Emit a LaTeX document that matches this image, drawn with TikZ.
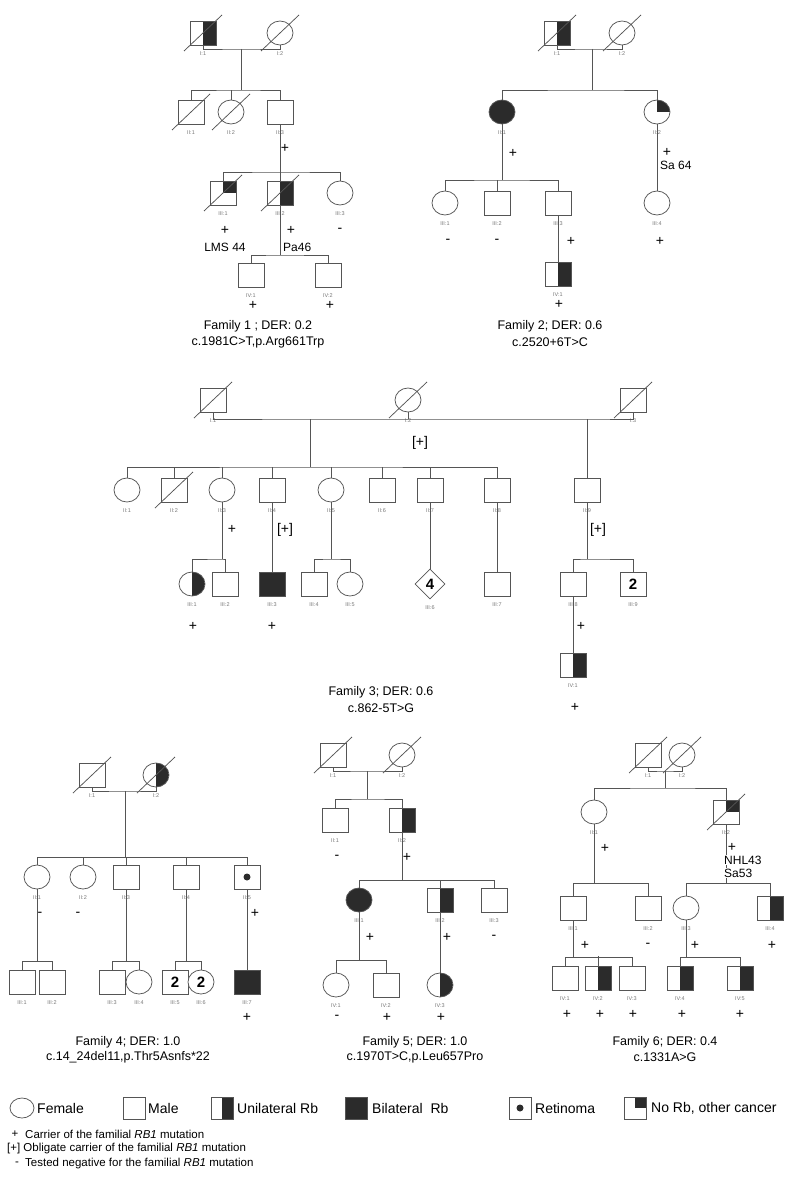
\documentclass[tikz,border=0pt]{standalone}
\usepackage{fontspec}
\setmainfont{Liberation Sans}
\usetikzlibrary{shapes.geometric,positioning,calc}
\definecolor{pedgray}{HTML}{555555}
\definecolor{rbfill}{HTML}{2B2B2B}
\definecolor{idgray}{HTML}{777777}

\newcommand{\deceased}[1]{\draw[pedline] ($(#1.center)+(-19,18)$) -- ($(#1.center)+(19,-18)$);}

\tikzset{
  pedline/.style={draw=pedgray, line width=0.75pt},
  sym/.style={draw=pedgray, line width=0.75pt, fill=white, inner sep=0pt},
  male/.style={sym, rectangle, minimum width=26pt, minimum height=24pt},
  female/.style={sym, ellipse, minimum width=26pt, minimum height=24pt},
  unkn/.style={sym, diamond, minimum size=30pt, font=\fontsize{15}{15}\selectfont\bfseries},
  count/.style={font=\fontsize{15}{15}\selectfont\bfseries},
  uni/.style={path picture={\fill[rbfill] (path picture bounding box.north) rectangle (path picture bounding box.south east);}},
  bil/.style={fill=rbfill},
  othca/.style={path picture={\fill[rbfill] (path picture bounding box.center) rectangle (path picture bounding box.north east);}},
  retino/.style={path picture={\fill[rbfill] (path picture bounding box.center) circle (3.5pt);}},
  idlab/.style={font=\fontsize{5.5}{6}\selectfont, text=idgray, inner sep=1pt, label distance=5pt},
  pid/.style={label={[idlab]below:{#1}}},
  sgn/.style={font=\fontsize{14}{14}\selectfont, inner sep=0pt},
  notetxt/.style={font=\fontsize{12}{13}\selectfont, inner sep=1pt},
  captxt/.style={font=\fontsize{12.5}{15}\selectfont, inner sep=0pt},
  legtxt/.style={font=\fontsize{14}{15}\selectfont, anchor=west, inner sep=0pt},
  keytxt/.style={font=\fontsize{11.5}{12}\selectfont, anchor=west, inner sep=0pt},
  keysym/.style={minimum width=22pt, minimum height=22pt}
}

\begin{document}
\begin{tikzpicture}[x=1pt, y=-1pt]
  \useasboundingbox (0,0) rectangle (785,1185);

  % Family 1
  \node[male, uni, pid={I:1}] (f1i1) at (203,33) {};
  \node[female, pid={I:2}] (f1i2) at (280,33) {};
  \node[male, pid={II:1}] (f1ii1) at (191,112) {};
  \node[female, pid={II:2}] (f1ii2) at (231,112) {};
  \node[male, pid={II:3}] (f1ii3) at (280,112) {};
  \node[male, othca, pid={III:1}] (f1iii1) at (223,193) {};
  \node[male, uni, pid={III:2}] (f1iii2) at (280,193) {};
  \node[female, pid={III:3}] (f1iii3) at (340,193) {};
  \node[male, pid={IV:1}] (f1iv1) at (251,275) {};
  \node[male, pid={IV:2}] (f1iv2) at (328,275) {};
  \deceased{f1i1} \deceased{f1i2} \deceased{f1ii1} \deceased{f1ii2} \deceased{f1iii1} \deceased{f1iii2}
  \coordinate (f1m) at (241,49);
  \coordinate (f1s) at (241,90);
  \coordinate (f1s2) at (280,172);
  \coordinate (f1s3) at (280,255);
  \draw[pedline] (f1i1.south) |- (f1m) -| (f1i2.south);
  \draw[pedline] (f1m) -- (f1s);
  \draw[pedline] (f1ii1.north) |- (f1s) -| (f1ii3.north);
  \draw[pedline] (f1ii2.north) -- ++(0,-10);
  \draw[pedline] (f1ii3.south) -- (f1s2);
  \draw[pedline] (f1iii1.north) |- (f1s2) -| (f1iii3.north);
  \draw[pedline] (f1iii2.north) -- (f1s2);
  \draw[pedline] (f1iii2.south) -- (f1s3);
  \draw[pedline] (f1iv1.north) |- (f1s3) -| (f1iv2.north);
  \node[sgn] (f1p1) at (285,148) {+};
  \node[sgn] (f1p2) at (225,230) {+};
  \node[sgn] (f1p3) at (291,230) {+};
  \node[sgn] (f1p4) at (340,230) {-};
  \node[notetxt] (f1n1) at (225,247) {LMS 44};
  \node[notetxt, anchor=west] (f1n2) at (282,247) {Pa46};
  \node[sgn] (f1p5) at (253,305) {+};
  \node[sgn] (f1p6) at (330,305) {+};
  \node[captxt] (f1cap) at (258,326) {Family 1 ; DER: 0.2};
  \node[captxt] (f1mut) at (258,342) {c.1981C>T,p.Arg661Trp};

  % Family 2
  \node[male, uni, pid={I:1}] (f2i1) at (557,33) {};
  \node[female, pid={I:2}] (f2i2) at (622,33) {};
  \node[female, bil, pid={II:1}] (f2ii1) at (502,112) {};
  \node[female, othca, pid={II:2}] (f2ii2) at (657,112) {};
  \node[female, pid={III:1}] (f2iii1) at (445,203) {};
  \node[male, pid={III:2}] (f2iii2) at (497,203) {};
  \node[male, pid={III:3}] (f2iii3) at (558,203) {};
  \node[female, pid={III:4}] (f2iii4) at (657,203) {};
  \node[male, uni, pid={IV:1}] (f2iv1) at (558,274) {};
  \deceased{f2i1} \deceased{f2i2}
  \coordinate (f2m) at (592,49);
  \coordinate (f2s) at (592,90);
  \coordinate (f2s2) at (502,180);
  \draw[pedline] (f2i1.south) |- (f2m) -| (f2i2.south);
  \draw[pedline] (f2m) -- (f2s);
  \draw[pedline] (f2ii1.north) |- (f2s) -| (f2ii2.north);
  \draw[pedline] (f2ii1.south) -- (f2s2);
  \draw[pedline] (f2iii1.north) |- (f2s2) -| (f2iii3.north);
  \draw[pedline] (f2iii2.north) -- ++(0,-11);
  \draw[pedline] (f2ii2.south) -- (f2iii4.north);
  \draw[pedline] (f2iii3.south) -- (f2iv1.north);
  \node[sgn] (f2p1) at (513,153) {+};
  \node[sgn] (f2p2) at (667,152) {+};
  \node[notetxt, anchor=west] (f2n1) at (659,165) {Sa 64};
  \node[sgn] (f2p3) at (448,241) {-};
  \node[sgn] (f2p4) at (497,241) {-};
  \node[sgn] (f2p5) at (571,241) {+};
  \node[sgn] (f2p6) at (660,241) {+};
  \node[sgn] (f2p7) at (559,304) {+};
  \node[captxt] (f2cap) at (550,326) {Family 2; DER: 0.6};
  \node[captxt] (f2mut) at (550,342) {c.2520+6T>C};

  % Family 3
  \node[male, pid={I:1}] (f3i1) at (213,400) {};
  \node[female, pid={I:2}] (f3i2) at (408,400) {};
  \node[male, pid={I:3}] (f3i3) at (633,400) {};
  \node[female, pid={II:1}] (f3ii1) at (127,490) {};
  \node[male, pid={II:2}] (f3ii2) at (174,490) {};
  \node[female, pid={II:3}] (f3ii3) at (222,490) {};
  \node[male, pid={II:4}] (f3ii4) at (272,490) {};
  \node[female, pid={II:5}] (f3ii5) at (331,490) {};
  \node[male, pid={II:6}] (f3ii6) at (382,490) {};
  \node[male, pid={II:7}] (f3ii7) at (430,490) {};
  \node[male, pid={II:8}] (f3ii8) at (497,490) {};
  \node[male, pid={II:9}] (f3ii9) at (587,490) {};
  \node[female, uni, pid={III:1}] (f3iii1) at (192,584) {};
  \node[male, pid={III:2}] (f3iii2) at (225,584) {};
  \node[male, bil, pid={III:3}] (f3iii3) at (272,584) {};
  \node[male, pid={III:4}] (f3iii4) at (314,584) {};
  \node[female, pid={III:5}] (f3iii5) at (350,584) {};
  \node[unkn, pid={III:6}] (f3iii6) at (430,584) {4};
  \node[male, pid={III:7}] (f3iii7) at (497,584) {};
  \node[male, pid={III:8}] (f3iii8) at (573,584) {};
  \node[male, count, pid={III:9}] (f3iii9) at (633,584) {2};
  \node[male, uni, pid={IV:1}] (f3iv1) at (573,665) {};
  \deceased{f3i1} \deceased{f3i2} \deceased{f3i3} \deceased{f3ii2}
  \coordinate (f3m1) at (310,419);
  \coordinate (f3m2) at (587,419);
  \coordinate (f3s) at (310,467);
  \coordinate (f3s3) at (222,559);
  \coordinate (f3s5) at (331,559);
  \coordinate (f3s9) at (587,559);
  \draw[pedline] (f3i1.south) |- (f3m1) -- (f3m2) -| (f3i3.south);
  \draw[pedline] (f3i2.south) -- (f3i2.south |- f3m1);
  \draw[pedline] (f3m1) -- (f3s);
  \draw[pedline] (f3ii1.north) |- (f3s) -| (f3ii8.north);
  \foreach \k in {2,...,7}
    \draw[pedline] (f3ii\k.north) -- ++(0,-11);
  \draw[pedline] (f3m2) -- (f3ii9.north);
  \draw[pedline] (f3ii3.south) -- (f3s3);
  \draw[pedline] (f3iii1.north) |- (f3s3) -| (f3iii2.north);
  \draw[pedline] (f3ii4.south) -- (f3iii3.north);
  \draw[pedline] (f3ii5.south) -- (f3s5);
  \draw[pedline] (f3iii4.north) |- (f3s5) -| (f3iii5.north);
  \draw[pedline] (f3ii7.south) -- (f3iii6.north);
  \draw[pedline] (f3ii8.south) -- (f3iii7.north);
  \draw[pedline] (f3ii9.south) -- (f3s9);
  \draw[pedline] (f3iii8.north) |- (f3s9) -| (f3iii9.north);
  \draw[pedline] (f3iii8.south) -- (f3iv1.north);
  \node[sgn] (f3p1) at (420,443) {[+]};
  \node[sgn] (f3p2) at (232,529) {+};
  \node[sgn] (f3p3) at (285,530) {[+]};
  \node[sgn] (f3p4) at (598,530) {[+]};
  \node[sgn] (f3p5) at (193,626) {+};
  \node[sgn] (f3p6) at (272,626) {+};
  \node[sgn] (f3p7) at (581,626) {+};
  \node[sgn] (f3p8) at (575,707) {+};
  \node[captxt] (f3cap) at (381,692) {Family 3; DER: 0.6};
  \node[captxt] (f3mut) at (381,708) {c.862-5T>G};

  % Family 4
  \node[male, pid={I:1}] (f4i1) at (92,775) {};
  \node[female, uni, pid={I:2}] (f4i2) at (156,775) {};
  \node[female, pid={II:1}] (f4ii1) at (37,877) {};
  \node[female, pid={II:2}] (f4ii2) at (83,877) {};
  \node[male, pid={II:3}] (f4ii3) at (126,877) {};
  \node[male, pid={II:4}] (f4ii4) at (186,877) {};
  \node[male, retino, pid={II:5}] (f4ii5) at (247,877) {};
  \node[male, pid={III:1}] (f4iii1) at (22,982) {};
  \node[male, pid={III:2}] (f4iii2) at (52,982) {};
  \node[male, pid={III:3}] (f4iii3) at (112,982) {};
  \node[female, pid={III:4}] (f4iii4) at (139,982) {};
  \node[male, count, pid={III:5}] (f4iii5) at (175,982) {2};
  \node[female, count, pid={III:6}] (f4iii6) at (201,982) {2};
  \node[male, bil, pid={III:7}] (f4iii7) at (247,982) {};
  \deceased{f4i1} \deceased{f4i2}
  \coordinate (f4m) at (125,791);
  \coordinate (f4s) at (125,857);
  \coordinate (f4s1) at (37,961);
  \coordinate (f4s3) at (126,961);
  \coordinate (f4s4) at (186,961);
  \draw[pedline] (f4i1.south) |- (f4m) -| (f4i2.south);
  \draw[pedline] (f4m) -- (f4s);
  \draw[pedline] (f4ii1.north) |- (f4s) -| (f4ii5.north);
  \foreach \k in {2,3,4}
    \draw[pedline] (f4ii\k.north) -- ++(0,-8);
  \draw[pedline] (f4ii1.south) -- (f4s1);
  \draw[pedline] (f4iii1.north) |- (f4s1) -| (f4iii2.north);
  \draw[pedline] (f4ii3.south) -- (f4s3);
  \draw[pedline] (f4iii3.north) |- (f4s3) -| (f4iii4.north);
  \draw[pedline] (f4ii4.south) -- (f4s4);
  \draw[pedline] (f4iii5.north) |- (f4s4) -| (f4iii6.north);
  \draw[pedline] (f4ii5.south) -- (f4iii7.north);
  \node[sgn] (f4p1) at (40,914) {-};
  \node[sgn] (f4p2) at (78,914) {-};
  \node[sgn] (f4p3) at (255,913) {+};
  \node[sgn] (f4p4) at (247,1017) {+};
  \node[captxt] (f4cap) at (128,1042) {Family 4; DER: 1.0};
  \node[captxt] (f4mut) at (128,1057) {c.14\_24del11,p.Thr5Asnfs*22};

  % Family 5
  \node[male, pid={I:1}] (f5i1) at (333,755) {};
  \node[female, pid={I:2}] (f5i2) at (402,755) {};
  \node[male, pid={II:1}] (f5ii1) at (335,820) {};
  \node[male, uni, pid={II:2}] (f5ii2) at (402,820) {};
  \node[female, bil, pid={III:1}] (f5iii1) at (359,900) {};
  \node[male, uni, pid={III:2}] (f5iii2) at (440,900) {};
  \node[male, pid={III:3}] (f5iii3) at (494,900) {};
  \node[female, pid={IV:1}] (f5iv1) at (336,985) {};
  \node[male, pid={IV:2}] (f5iv2) at (386,985) {};
  \node[female, uni, pid={IV:3}] (f5iv3) at (440,985) {};
  \deceased{f5i1} \deceased{f5i2}
  \coordinate (f5m) at (367,771);
  \coordinate (f5s) at (367,799);
  \coordinate (f5s2) at (402,880);
  \coordinate (f5s3) at (359,960);
  \draw[pedline] (f5i1.south) |- (f5m) -| (f5i2.south);
  \draw[pedline] (f5m) -- (f5s);
  \draw[pedline] (f5ii1.north) |- (f5s) -| (f5ii2.north);
  \draw[pedline] (f5ii2.south) -- (f5s2);
  \draw[pedline] (f5iii1.north) |- (f5s2) -| (f5iii3.north);
  \draw[pedline] (f5iii2.north) -- ++(0,-8);
  \draw[pedline] (f5iii1.south) -- (f5s3);
  \draw[pedline] (f5iv1.north) |- (f5s3) -| (f5iv2.north);
  \draw[pedline] (f5iii2.south) -- (f5iv3.north);
  \node[sgn] (f5p1) at (337,857) {-};
  \node[sgn] (f5p2) at (407,857) {+};
  \node[sgn] (f5p3) at (370,937) {+};
  \node[sgn] (f5p4) at (447,937) {+};
  \node[sgn] (f5p5) at (494,937) {-};
  \node[sgn] (f5p6) at (337,1017) {-};
  \node[sgn] (f5p7) at (387,1017) {+};
  \node[sgn] (f5p8) at (441,1017) {+};
  \node[captxt] (f5cap) at (415,1042) {Family 5; DER: 1.0};
  \node[captxt] (f5mut) at (415,1057) {c.1970T>C,p.Leu657Pro};

  % Family 6
  \node[male, pid={I:1}] (f6i1) at (648,755) {};
  \node[female, pid={I:2}] (f6i2) at (682,755) {};
  \node[female, pid={II:1}] (f6ii1) at (594,812) {};
  \node[male, othca, pid={II:2}] (f6ii2) at (726,812) {};
  \node[male, pid={III:1}] (f6iii1) at (573,908) {};
  \node[male, pid={III:2}] (f6iii2) at (648,908) {};
  \node[female, pid={III:3}] (f6iii3) at (686,908) {};
  \node[male, uni, pid={III:4}] (f6iii4) at (770,908) {};
  \node[male, pid={IV:1}] (f6iv1) at (565,978) {};
  \node[male, uni, pid={IV:2}] (f6iv2) at (598,978) {};
  \node[male, pid={IV:3}] (f6iv3) at (632,978) {};
  \node[male, uni, pid={IV:4}] (f6iv4) at (680,978) {};
  \node[male, uni, pid={IV:5}] (f6iv5) at (740,978) {};
  \deceased{f6i1} \deceased{f6i2} \deceased{f6ii2}
  \coordinate (f6m) at (665,771);
  \coordinate (f6s) at (665,788);
  \coordinate (f6s1) at (594,883);
  \coordinate (f6s2) at (726,883);
  \coordinate (f6s3) at (573,957);
  \coordinate (f6s4) at (686,957);
  \draw[pedline] (f6i1.south) |- (f6m) -| (f6i2.south);
  \draw[pedline] (f6m) -- (f6s);
  \draw[pedline] (f6ii1.north) |- (f6s) -| (f6ii2.north);
  \draw[pedline] (f6ii1.south) -- (f6s1);
  \draw[pedline] (f6iii1.north) |- (f6s1) -| (f6iii2.north);
  \draw[pedline] (f6ii2.south) -- (f6s2);
  \draw[pedline] (f6iii3.north) |- (f6s2) -| (f6iii4.north);
  \draw[pedline] (f6iii1.south) -- (f6s3);
  \draw[pedline] (f6iv1.north) |- (f6s3) -| (f6iv3.north);
  \draw[pedline] (f6iv2.north) -- ++(0,-10);
  \draw[pedline] (f6iii3.south) -- (f6s4);
  \draw[pedline] (f6iv4.north) |- (f6s4) -| (f6iv5.north);
  \node[sgn] (f6p1) at (605,848) {+};
  \node[sgn] (f6p2) at (732,847) {+};
  \node[notetxt, anchor=west, fill=white] (f6n1) at (723,860) {NHL43};
  \node[notetxt, anchor=west, fill=white] (f6n2) at (723,873) {Sa53};
  \node[sgn] (f6p3) at (585,945) {+};
  \node[sgn] (f6p4) at (648,945) {-};
  \node[sgn] (f6p5) at (695,945) {+};
  \node[sgn] (f6p6) at (772,945) {+};
  \foreach \k/\xx in {1/567,2/600,3/633,4/682,5/740}
    \node[sgn] (f6q\k) at (\xx,1014) {+};
  \node[captxt] (f6cap) at (665,1042) {Family 6; DER: 0.4};
  \node[captxt] (f6mut) at (665,1057) {c.1331A>G};

  % key
  \node[female, minimum width=24pt, minimum height=20pt] (kfem) at (22,1108) {};
  \node[legtxt] (kfemt) at (37,1108) {Female};
  \node[male, keysym] (kmal) at (134,1108) {};
  \node[legtxt] (kmalt) at (148,1108) {Male};
  \node[male, keysym, uni] (kuni) at (222,1108) {};
  \node[legtxt] (kunit) at (237,1108) {Unilateral Rb};
  \node[male, keysym, bil] (kbil) at (356,1108) {};
  \node[legtxt] (kbilt) at (372,1108) {Bilateral\ \ Rb};
  \node[male, keysym, retino] (kret) at (520,1108) {};
  \node[legtxt] (kret) at (535,1108) {Retinoma};
  \node[male, keysym, othca] (koth) at (635,1108) {};
  \node[legtxt] (kotht) at (651,1108) {No Rb, other cancer};
  \node[keytxt, anchor=center] (kc1s) at (15,1134) {+};
  \node[keytxt] (kc1) at (25,1134) {Carrier of the familial \textit{RB1} mutation};
  \node[keytxt] (kc2) at (7,1149) {[+] Obligate carrier of the familial \textit{RB1} mutation};
  \node[keytxt, anchor=center] (kc3s) at (17,1164) {-};
  \node[keytxt] (kc3) at (25,1164) {Tested negative for the familial \textit{RB1} mutation};
\end{tikzpicture}
\end{document}
